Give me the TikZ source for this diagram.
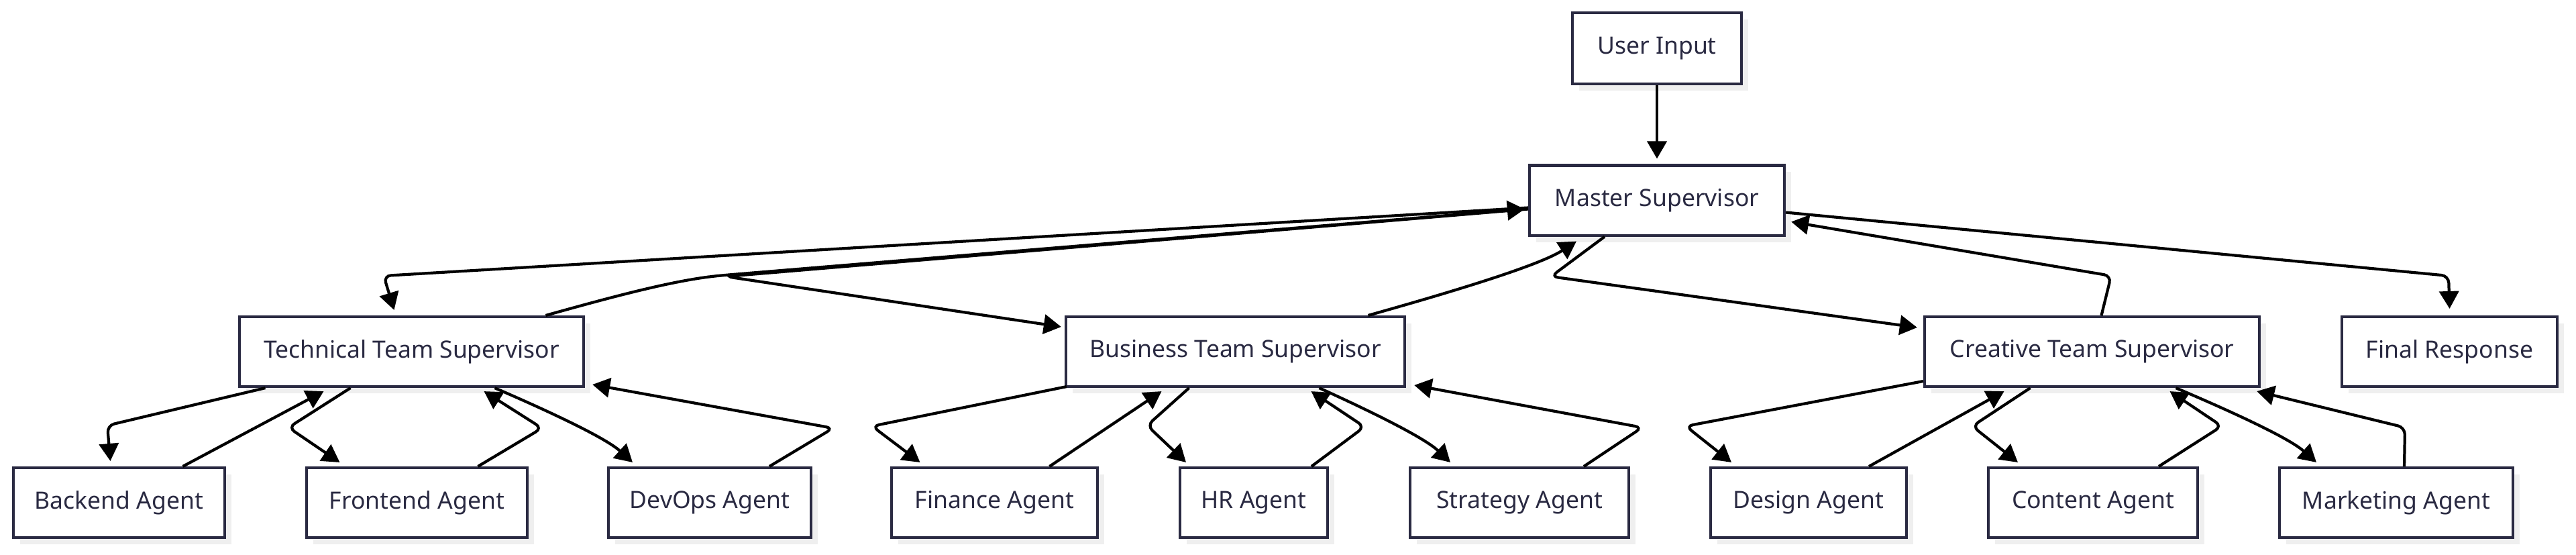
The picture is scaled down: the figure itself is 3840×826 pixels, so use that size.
\documentclass[tikz,border=0pt]{standalone}
\usepackage{fontspec}
\setmainfont{Noto Sans}
\usetikzlibrary{calc,arrows.meta,shadows}
\definecolor{navy}{RGB}{42,42,66}
\definecolor{shadowgray}{RGB}{239,239,239}
\tikzset{
  box/.style={draw=navy, line width=1.15pt, fill=white, text=navy, inner sep=0pt,
    minimum height=1.04cm, font=\fontsize{10.1}{12}\selectfont,
    drop shadow={shadow xshift=0.1cm, shadow yshift=-0.1cm, fill=shadowgray, opacity=1}},
  edge/.style={line width=1.2pt, draw=black, rounded corners=3pt,
    -{Triangle[length=0.26cm,width=0.29cm]}},
}
\begin{document}
\begin{tikzpicture}[x=0.01cm, y=-0.01cm]
\useasboundingbox (0,0) rectangle (3840,826);
% nodes
\node[box, minimum width=2.52cm, minimum height=1.06cm] (user) at (2470,72) {User Input};
\node[box, minimum width=3.80cm] (master) at (2470,298.5) {Master Supervisor};
\node[box, minimum width=5.13cm] (tech) at (613.5,524) {Technical Team Supervisor};
\node[box, minimum width=5.05cm] (business) at (1841.5,524) {Business Team Supervisor};
\node[box, minimum width=4.99cm] (creative) at (3118.5,524) {Creative Team Supervisor};
\node[box, minimum width=3.21cm] (final) at (3651.5,524) {Final Response};
\node[box, minimum width=3.15cm] (backend) at (177.5,749) {Backend Agent};
\node[box, minimum width=3.29cm] (frontend) at (621.5,749) {Frontend Agent};
\node[box, minimum width=3.02cm] (devops) at (1058,749) {DevOps Agent};
\node[box, minimum width=3.07cm] (finance) at (1482.5,749) {Finance Agent};
\node[box, minimum width=2.20cm] (hr) at (1869,749) {HR Agent};
\node[box, minimum width=3.26cm] (strategy) at (2265,749) {Strategy Agent};
\node[box, minimum width=2.92cm] (design) at (2696,749) {Design Agent};
\node[box, minimum width=3.12cm] (content) at (3120,749) {Content Agent};
\node[box, minimum width=3.48cm] (marketing) at (3572,749) {Marketing Agent};
% top level edges
\draw[edge] (user.south) -- ($(master.north)+(0,-8)$);
\draw[edge] ($(master.west)+(0,11)$) -- (572,411) -- ($(tech.north)+(-26,-8)$);
\draw[edge] ($(tech.north)+(200,0)$) .. controls (900,446) and (1000,418) .. (1080,410) -- ($(master.west)+(-5,13)$);
\draw[edge] ($(master.west)+(0,13)$) -- (1082,412) -- ($(business.west)+(-5,-37)$);
\draw[edge] ($(business.north)+(198,0)$) .. controls (2200,425) and (2300,392) .. ($(master.south)+(-120,7)$);
\draw[edge] ($(master.south)+(-78,0)$) -- (2312,412) -- ($(creative.west)+(-9,-36)$);
\draw[edge] ($(creative.north)+(14,0)$) -- (3147,411) -- ($(master.east)+(8,32)$);
\draw[edge] ($(master.east)+(0,18)$) -- (3650,411) -- ($(final.north)+(0,-10)$);
% technical team
\draw[edge] ($(tech.south)+(-218,0)$) -- (160,634) -- ($(backend.north)+(-13,-8)$);
\draw[edge] ($(backend.north)+(95,0)$) -- ($(tech.south)+(-131,5)$);
\draw[edge] ($(tech.south)+(-91,0)$) -- (430,637) -- ($(frontend.north)+(-115,-6)$);
\draw[edge] ($(frontend.north)+(91,0)$) -- (808,638) -- ($(tech.south)+(108,5)$);
\draw[edge] ($(tech.south)+(124,0)$) .. controls (800,605) and (900,650) .. ($(devops.north)+(-115,-6)$);
\draw[edge] ($(devops.north)+(89,0)$) -- (1242,638) -- ($(tech.east)+(11,49)$);
% business team
\draw[edge] ($(business.south west)+(3,-2)$) -- (1300,635) -- ($(finance.north)+(-111,-6)$);
\draw[edge] ($(finance.north)+(82,0)$) -- ($(business.south)+(-110,5)$);
\draw[edge] ($(business.south)+(-69,0)$) -- (1710,634) -- ($(hr.north)+(-101,-6)$);
\draw[edge] ($(hr.north)+(86,0)$) -- (2034,636) -- ($(business.south)+(113,5)$);
\draw[edge] ($(business.south)+(125,0)$) .. controls (2026,605) and (2121,650) .. ($(strategy.north)+(-103,-6)$);
\draw[edge] ($(strategy.north)+(96,0)$) -- (2448,637) -- ($(business.east)+(12,50)$);
% creative team
\draw[edge] ($(creative.west)+(0,44)$) -- (2513,635) -- ($(design.north)+(-115,-6)$);
\draw[edge] ($(design.north)+(90,0)$) -- ($(creative.south)+(-131,5)$);
\draw[edge] ($(creative.south)+(-92,0)$) -- (2940,635) -- ($(content.north)+(-112,-6)$);
\draw[edge] ($(content.north)+(98,0)$) -- (3312,635) -- ($(creative.south)+(116,5)$);
\draw[edge] ($(creative.south)+(125,0)$) .. controls (3307,605) and (3409,650) .. ($(marketing.north)+(-119,-6)$);
\draw[edge] ($(marketing.north)+(12,0)$) -- (3585,637) -- ($(creative.east)+(-6,59)$);
\end{tikzpicture}
\end{document}
